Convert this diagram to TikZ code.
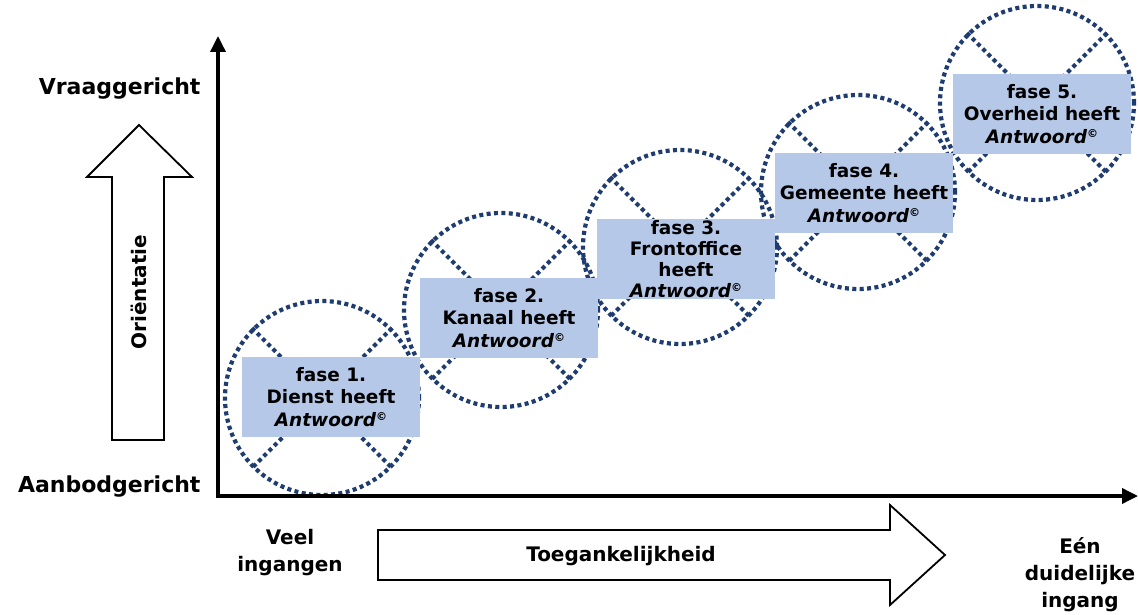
\documentclass[tikz,border=0pt]{standalone}
\usepackage{fontspec}
\setmainfont{DejaVu Sans}
\usetikzlibrary{arrows.meta}
\definecolor{fasedots}{RGB}{31,60,112}
\definecolor{fasefill}{RGB}{182,200,232}
\newcommand{\antw}{\textit{Antwoord}\raisebox{6pt}{\fontsize{11}{11}\selectfont\bfseries\textcopyright}}
\tikzset{
  ring/.style={circle, draw=fasedots, line width=4.2pt, dash pattern=on 4pt off 3.4pt, minimum size=194pt, inner sep=0pt},
  cross/.style={draw=fasedots, line width=4.2pt, dash pattern=on 4pt off 3.4pt},
  fasebox/.style={fill=fasefill, minimum width=178pt, minimum height=80pt, inner sep=0pt, align=center, font=\fontsize{18.5}{22.5}\selectfont\bfseries},
  lab/.style={font=\fontsize{22}{26}\selectfont\bfseries},
  sublab/.style={font=\fontsize{20}{27}\selectfont\bfseries, align=center},
  blockarrow/.style={draw, line width=1.8pt, fill=white, line join=miter},
  axis/.style={line width=3.5pt, {Triangle[length=16pt,width=15pt]}-{Triangle[length=16pt,width=15pt]}}
}
\begin{document}
\begin{tikzpicture}[x=1pt,y=-1pt]
\useasboundingbox (0,0) rectangle (1138,615);
% rings with crosses
\node[ring] (r1) at (322,398) {};
\draw[cross] (r1.135) -- (r1.-45) (r1.45) -- (r1.225);
\node[ring] (r2) at (501,310) {};
\draw[cross] (r2.135) -- (r2.-45) (r2.45) -- (r2.225);
\node[ring] (r3) at (680,247) {};
\draw[cross] (r3.135) -- (r3.-45) (r3.45) -- (r3.225);
\node[ring] (r4) at (858,192) {};
\draw[cross] (r4.135) -- (r4.-45) (r4.45) -- (r4.225);
\node[ring] (r5) at (1037,103) {};
\draw[cross] (r5.135) -- (r5.-45) (r5.45) -- (r5.225);
% fasen
\node[fasebox] (f1) at (331,397) {fase 1.\\Dienst heeft\\\antw};
\node[fasebox] (f2) at (509,318) {fase 2.\\Kanaal heeft\\\antw};
\node[fasebox, font=\fontsize{18.5}{21}\selectfont\bfseries] (f3) at (686,259) {fase 3.\\Frontoffice\\heeft\\\antw};
\node[fasebox] (f4) at (864,193) {fase 4.\\Gemeente heeft\\\antw};
\node[fasebox] (f5) at (1042,114) {fase 5.\\Overheid heeft\\\antw};
% assen
\coordinate (O) at (218,496);
\coordinate (ytop) at (218,36);
\coordinate (xend) at (1138,496);
\draw[axis] (ytop) -- (O) -- (xend);
\node[lab, anchor=base east] (vraag) at (204,95) {Vraaggericht};
\node[lab, anchor=base east] (aanbod) at (204,492) {Aanbodgericht};
% orientatie pijl
\draw[blockarrow] (112,440) -- (112,177) -- (87,177) -- (139,125) -- (192,177) -- (164,177) -- (164,440) -- cycle;
\node[sublab, font=\fontsize{20}{24}\selectfont\bfseries, rotate=90] (orient) at (139,292) {Ori\"entatie};
% toegankelijkheid pijl
\draw[blockarrow] (378,530) -- (890,530) -- (890,505) -- (945,555) -- (890,605) -- (890,580) -- (378,580) -- cycle;
\node[sublab] (toeg) at (621,556) {Toegankelijkheid};
\node[sublab] (veel) at (290,553) {Veel\\ingangen};
\node[sublab, anchor=north] (een) at (1080,534) {E\'en\\duidelijke\\ingang};
\end{tikzpicture}
\end{document}
